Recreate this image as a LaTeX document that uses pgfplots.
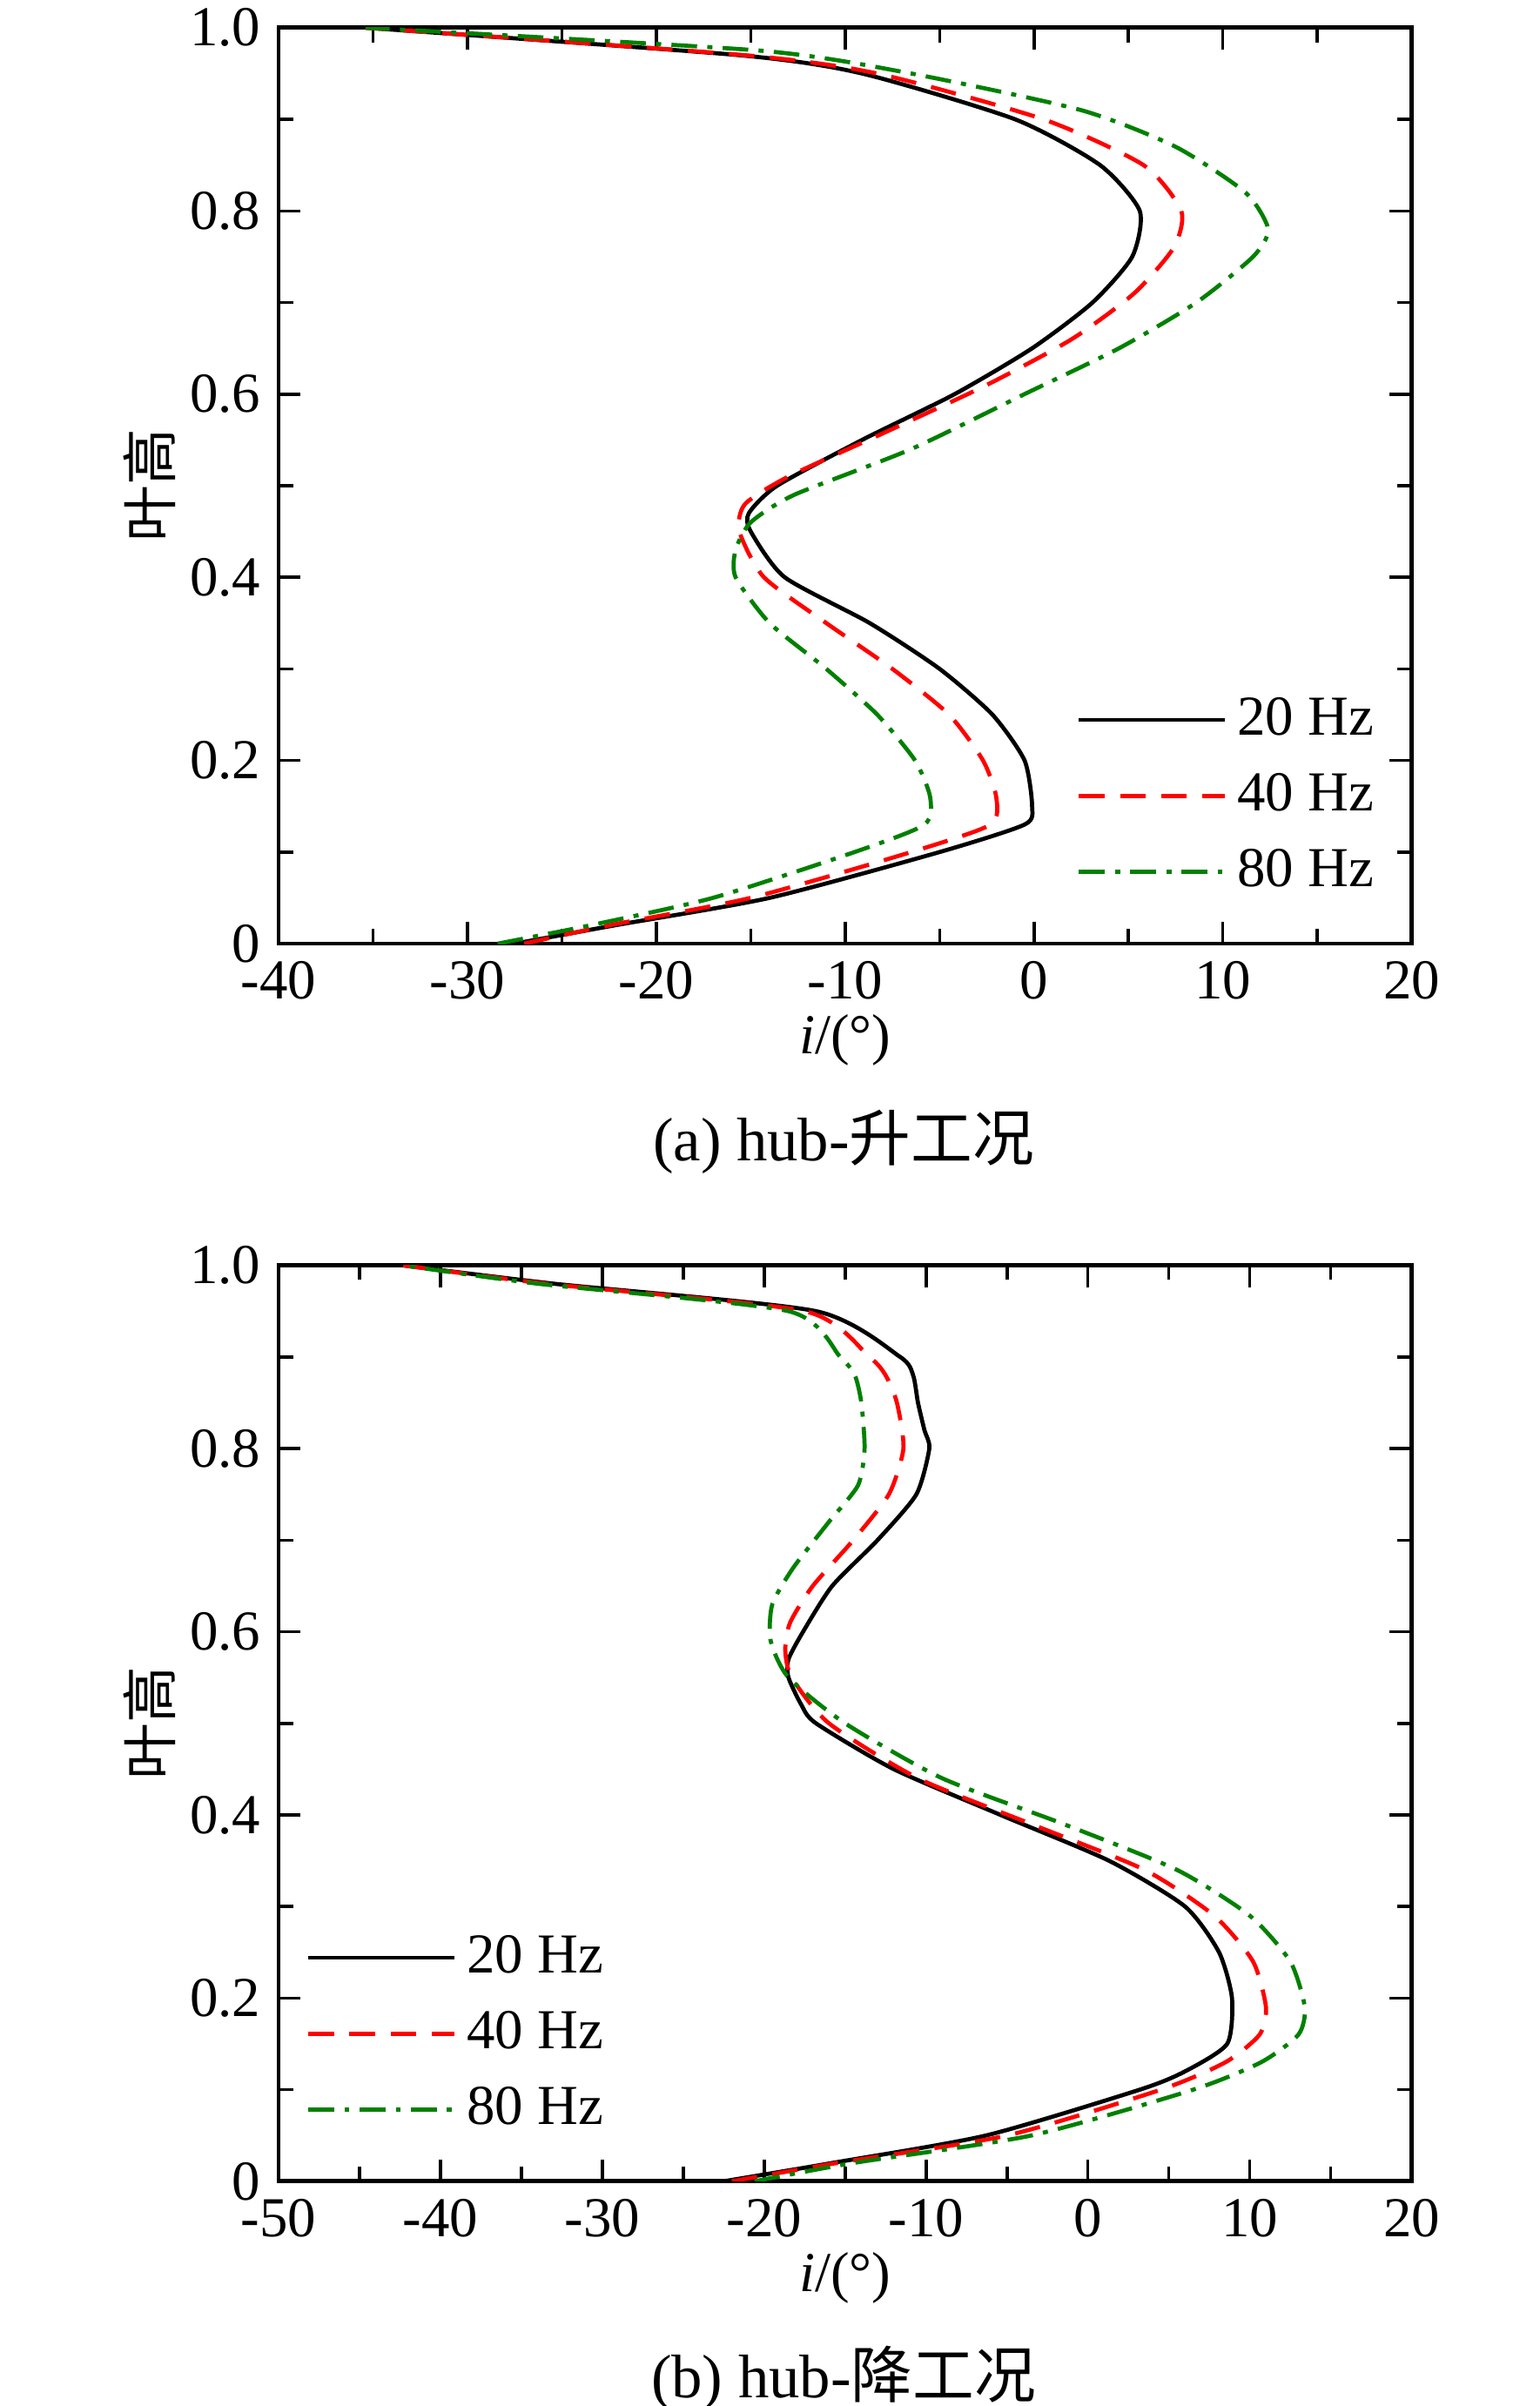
\documentclass[border=0pt]{standalone}
\usepackage{pgfplots}
\pgfplotsset{compat=1.18}
\usepackage{fontspec}
\setmainfont{Liberation Serif}
\newfontfamily\cjk{Noto Sans CJK SC}
\begin{document}
\begin{tikzpicture}
\useasboundingbox (0,0) rectangle (300pt,-468.9pt);
\pgfplotsset{
 myax/.style={scale only axis, width=220.8pt, height=178.5pt,
  ymin=0,ymax=1, ytick={0,0.2,...,1.0}, yticklabels={0,0.2,0.4,0.6,0.8,1.0},
  minor y tick num=1, minor x tick num=1,
  /pgf/number format/assume math mode=true,
  tick label style={font=\fontsize{11}{11}\selectfont},
  label style={font=\fontsize{11}{11}\selectfont},
  axis line style={line width=0.8pt}, tick style={black,line width=0.6pt},
  ylabel={\cjk 叶高}, xlabel={\textit{i}/(°)},
  ylabel style={yshift=-4pt}, xlabel style={yshift=4pt},
  legend cell align=left,
  legend style={draw=none,fill=none,font=\fontsize{11}{11}\selectfont,row sep=2pt},
  legend image code/.code={\draw[##1] (0cm,0cm) -- (1.0cm,0cm);},
  every axis plot/.append style={line width=0.8pt, smooth, tension=0.4}},
 s20/.style={black,solid}, s40/.style={red,dash pattern=on 5pt off 3pt},
 s80/.style={green!50!black,dash pattern=on 5pt off 2pt on 1pt off 2pt}}
\begin{axis}[myax, at={(54.3pt,-183.9pt)}, anchor=south west, xmin=-40,xmax=20, xtick={-40,-30,...,20},
 legend style={at={(0.99,0.03)},anchor=south east}]
\addplot[s20] coordinates {(-27.5,0)(-22.2,0.02)(-14,0.05)(-5,0.1)(-0.5,0.13)(-0.1,0.15)(-0.5,0.2)(-2.2,0.25)(-5,0.3)(-8.7,0.35)(-13.2,0.4)(-15,0.45)(-15.1,0.47)(-13.6,0.5)(-9.1,0.55)(-4.2,0.6)(-0.1,0.65)(3.1,0.7)(5.2,0.75)(5.6,0.8)(3.5,0.85)(-1,0.9)(-9.1,0.95)(-15.6,0.97)(-35.4,1)};
\addlegendentry{20 Hz}
\addplot[s40] coordinates {(-27,0)(-22.5,0.02)(-15,0.05)(-6.5,0.1)(-2.3,0.13)(-2,0.16)(-2.7,0.2)(-4.5,0.25)(-7.5,0.3)(-11,0.35)(-14.3,0.4)(-15.6,0.45)(-15.3,0.48)(-13,0.51)(-7.7,0.56)(-2.5,0.61)(2,0.66)(5.3,0.71)(7.4,0.76)(7.8,0.8)(5.8,0.85)(0.5,0.9)(-8.3,0.95)(-15.3,0.97)(-35.4,1)};
\addlegendentry{40 Hz}
\addplot[s80] coordinates {(-28.4,0)(-23.5,0.02)(-17,0.05)(-9.5,0.1)(-5.8,0.13)(-5.5,0.16)(-6.3,0.2)(-8.3,0.25)(-11,0.3)(-14,0.35)(-15.8,0.4)(-15.8,0.43)(-15,0.46)(-12.7,0.49)(-6.5,0.54)(-0.5,0.6)(4.5,0.65)(8.6,0.7)(11.6,0.75)(12.4,0.78)(11.2,0.82)(7.5,0.87)(2.5,0.91)(-6.5,0.95)(-14.5,0.975)(-35.4,1)};
\addlegendentry{80 Hz}
\end{axis}
\node[font=\fontsize{12}{12}\selectfont] at (164.4pt,-222.6pt) {(a) hub-{\cjk 升工况}};
\begin{axis}[myax, at={(54.3pt,-425.1pt)}, anchor=south west, xmin=-50,xmax=20, xtick={-50,-40,...,20},
 legend style={at={(0.01,0.03)},anchor=south west}]
\addplot[s20] coordinates {(-22.5,0)(-15.8,0.02)(-6.3,0.05)(3.2,0.1)(6,0.12)(8.6,0.15)(8.9,0.2)(8.1,0.25)(6,0.3)(1.3,0.35)(-5.4,0.4)(-12,0.45)(-16.8,0.5)(-17.7,0.52)(-18.5,0.55)(-18.5,0.57)(-17.6,0.6)(-15.8,0.65)(-13,0.7)(-10.6,0.75)(-9.8,0.8)(-10.1,0.82)(-10.5,0.85)(-10.8,0.88)(-11.6,0.9)(-16.8,0.95)(-33,0.98)(-42.3,1)};
\addlegendentry{20 Hz}
\addplot[s40] coordinates {(-22,0)(-15.5,0.02)(-5,0.05)(4.5,0.1)(8.5,0.13)(10.6,0.16)(11,0.19)(10.2,0.24)(7.8,0.29)(3.5,0.34)(-3.5,0.39)(-10.5,0.44)(-16,0.5)(-18.3,0.55)(-18.7,0.58)(-18.4,0.61)(-17,0.65)(-14.5,0.7)(-12.3,0.75)(-11.4,0.8)(-11.8,0.85)(-12.5,0.88)(-13.5,0.9)(-17.5,0.95)(-33.5,0.98)(-42.3,1)};
\addlegendentry{40 Hz}
\addplot[s80] coordinates {(-20.6,0)(-14.5,0.02)(-3.5,0.05)(6.5,0.1)(10.7,0.13)(13,0.16)(13.4,0.19)(12.5,0.24)(10,0.29)(5.5,0.34)(-1.5,0.39)(-9,0.44)(-15,0.5)(-18.5,0.55)(-19.6,0.59)(-19.5,0.63)(-18.2,0.67)(-16,0.72)(-14.2,0.76)(-13.8,0.8)(-14,0.85)(-14.4,0.88)(-15.3,0.9)(-18.5,0.95)(-34,0.98)(-42.3,1)};
\addlegendentry{80 Hz}
\end{axis}
\node[font=\fontsize{12}{12}\selectfont] at (164.4pt,-463.5pt) {(b) hub-{\cjk 降工况}};
\end{tikzpicture}
\end{document}
